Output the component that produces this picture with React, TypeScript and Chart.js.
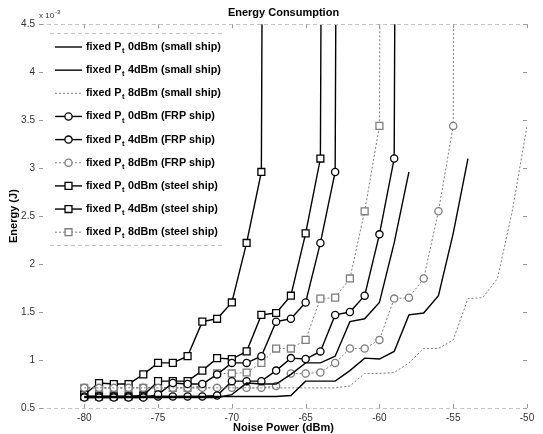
import React, { useEffect, useRef } from "react";
import { Chart, registerables } from "chart.js";

Chart.register(...registerables);

// Noise power (dBm) sample points
const noisePowerDbm = [
  -80, -79, -78, -77, -76, -75, -74, -73, -72, -71, -70, -69, -68, -67, -66, -65,
  -64, -63, -62, -61, -60, -59, -58, -57, -56, -55, -54, -53, -52, -51, -50,
];
const xTickValues = [-80, -75, -70, -65, -60, -55, -50];
const energyTickValues = [0.5, 1, 1.5, 2, 2.5, 3, 3.5, 4, 4.5];

const chartTitle = "Energy Consumption";
const xAxisTitle = "Noise Power (dBm)";
const yAxisTitle = "Energy (J)";

// Energy values, in units of 1e-3 J (null = no point)
const smallShip0dBm = [
  0.61, 0.61, 0.61, 0.61, 0.61, 0.61, 0.61, 0.61, 0.61, 0.61, 0.64, 0.76, 0.75, 0.75, 0.85, 0.97,
  0.97, 1.04, 1.40, 1.43, 1.60, 2.22, 2.96, null, null, null, null, null, null, null, null,
];
const smallShip4dBm = [
  0.62, 0.62, 0.62, 0.62, 0.62, 0.62, 0.62, 0.62, 0.62, 0.62, 0.62, 0.62, 0.62, 0.62, 0.63, 0.78,
  0.78, 0.78, 0.89, 1.02, 1.01, 1.09, 1.47, 1.49, 1.67, 2.32, 3.10, null, null, null, null,
];
const smallShip8dBm = [
  0.71, 0.71, 0.71, 0.71, 0.71, 0.71, 0.71, 0.71, 0.71, 0.71, 0.71, 0.71, 0.71, 0.71, 0.71, 0.71,
  0.71, 0.71, 0.73, 0.86, 0.86, 0.87, 0.97, 1.12, 1.12, 1.21, 1.64, 1.65, 1.85, 2.55, 3.44,
];
const frpShip0dBm = [
  0.61, 0.61, 0.61, 0.61, 0.61, 0.64, 0.76, 0.75, 0.75, 0.85, 0.97, 0.97, 1.04, 1.40, 1.43, 1.60,
  2.22, 2.96, 40, null, null, null, null, null, null, null, null, null, null, null, null,
];
const frpShip4dBm = [
  0.62, 0.62, 0.62, 0.62, 0.62, 0.62, 0.62, 0.62, 0.62, 0.63, 0.78, 0.78, 0.78, 0.89, 1.02, 1.01,
  1.09, 1.47, 1.50, 1.67, 2.31, 3.10, 40, null, null, null, null, null, null, null, null,
];
const frpShip8dBm = [
  0.71, 0.71, 0.71, 0.71, 0.71, 0.71, 0.71, 0.71, 0.71, 0.71, 0.71, 0.71, 0.71, 0.73, 0.86, 0.86,
  0.87, 0.97, 1.12, 1.12, 1.21, 1.64, 1.65, 1.85, 2.55, 3.44, 40, null, null, null, null,
];
const steelShip0dBm = [
  0.64, 0.76, 0.75, 0.75, 0.85, 0.97, 0.97, 1.04, 1.40, 1.43, 1.60, 2.22, 2.96, 40, null, null,
  null, null, null, null, null, null, null, null, null, null, null, null, null, null, null,
];
const steelShip4dBm = [
  0.62, 0.62, 0.62, 0.62, 0.63, 0.78, 0.78, 0.78, 0.89, 1.02, 1.01, 1.09, 1.47, 1.49, 1.67, 2.32,
  3.10, 40, null, null, null, null, null, null, null, null, null, null, null, null, null,
];
const steelShip8dBm = [
  0.71, 0.71, 0.71, 0.71, 0.71, 0.71, 0.71, 0.71, 0.73, 0.86, 0.86, 0.87, 0.97, 1.12, 1.12, 1.21,
  1.64, 1.65, 1.85, 2.55, 3.44, 40, null, null, null, null, null, null, null, null, null,
];

const powerLabels = ["0dBm", "4dBm", "8dBm"];
const shipLabels = ["small ship", "FRP ship", "steel ship"];

const seriesValues = [
  smallShip0dBm, smallShip4dBm, smallShip8dBm,
  frpShip0dBm, frpShip4dBm, frpShip8dBm,
  steelShip0dBm, steelShip4dBm, steelShip8dBm,
];

const FONT = "'Liberation Sans', Arial, Helvetica, sans-serif";
const SOLID = "#000000";
const DOTTED = "#7d7d7d";

function buildDatasets() {
  return seriesValues.map((vals, i) => {
    const ship = Math.floor(i / 3);
    const pw = i % 3;
    const dotted = pw === 2;
    const color = dotted ? DOTTED : SOLID;
    const style = ship === 0 ? false : ship === 1 ? "circle" : "rect";
    return {
      label: `fixed Pt ${powerLabels[pw]} (${shipLabels[ship]})`,
      data: noisePowerDbm.map((x, k) => ({ x, y: vals[k] })),
      borderColor: color,
      backgroundColor: "#ffffff",
      borderWidth: dotted ? 1 : 1.4,
      borderDash: dotted ? [2, 2] : [],
      pointStyle: style || "circle",
      pointRadius: style === false ? 0 : style === "circle" ? 3.6 : 4.9,
      pointBorderWidth: 1.3,
      pointBorderColor: color,
      pointBackgroundColor: "#ffffff",
      tension: 0,
      spanGaps: false,
      _legendPower: powerLabels[pw],
      _legendShip: shipLabels[ship],
    };
  });
}

const overlayPlugin = {
  id: "matlabOverlay",
  afterDraw(chart: any) {
    const { ctx, chartArea } = chart;
    const { left, right, top, bottom } = chartArea;
    const xs = chart.scales.x;
    const ys = chart.scales.y;
    ctx.save();
    // faint frame (top / bottom)
    ctx.strokeStyle = "#c4c4c4";
    ctx.lineWidth = 1;
    ctx.setLineDash([4, 3]);
    ctx.beginPath();
    ctx.moveTo(left, Math.round(top) + 0.5);
    ctx.lineTo(right, Math.round(top) + 0.5);
    ctx.moveTo(left, Math.round(bottom) + 0.5);
    ctx.lineTo(right, Math.round(bottom) + 0.5);
    ctx.stroke();
    ctx.setLineDash([]);
    // inward ticks
    ctx.strokeStyle = "#9a9a9a";
    ctx.beginPath();
    xTickValues.forEach((v) => {
      const px = Math.round(xs.getPixelForValue(v)) + 0.5;
      ctx.moveTo(px, bottom);
      ctx.lineTo(px, bottom - 4);
      ctx.moveTo(px, top);
      ctx.lineTo(px, top + 4);
    });
    energyTickValues.forEach((v) => {
      const py = Math.round(ys.getPixelForValue(v)) + 0.5;
      ctx.moveTo(left - 1, py);
      ctx.lineTo(left + 3, py);
      ctx.moveTo(right, py);
      ctx.lineTo(right - 4, py);
    });
    ctx.stroke();

    // exponent label
    ctx.fillStyle = "#333";
    ctx.textBaseline = "alphabetic";
    ctx.textAlign = "left";
    ctx.font = `8px ${FONT}`;
    ctx.fillText("x 10", left - 1, top - 6);
    const w10 = ctx.measureText("x 10").width;
    ctx.font = `6px ${FONT}`;
    ctx.fillText("-3", left - 1 + w10 + 1, top - 10);

    // legend
    const lx = 50, ly = 33, lw = 172, lh = 212;
    ctx.fillStyle = "#ffffff";
    ctx.fillRect(lx, ly, lw, lh);
    ctx.strokeStyle = "#c4c4c4";
    ctx.setLineDash([4, 3]);
    ctx.beginPath();
    ctx.moveTo(lx, ly + 0.5);
    ctx.lineTo(lx + lw, ly + 0.5);
    ctx.moveTo(lx, ly + lh + 0.5);
    ctx.lineTo(lx + lw, ly + lh + 0.5);
    ctx.stroke();
    ctx.setLineDash([]);

    chart.data.datasets.forEach((ds: any, i: number) => {
      const cy = 47 + i * 23.15;
      ctx.save();
      ctx.strokeStyle = ds.borderColor;
      ctx.lineWidth = ds.borderWidth;
      ctx.setLineDash(ds.borderDash || []);
      ctx.beginPath();
      ctx.moveTo(55, cy);
      ctx.lineTo(82, cy);
      ctx.stroke();
      ctx.setLineDash([]);
      if (ds.pointRadius > 0) {
        ctx.lineWidth = ds.pointBorderWidth;
        ctx.strokeStyle = ds.pointBorderColor;
        ctx.fillStyle = "#ffffff";
        ctx.beginPath();
        if (ds.pointStyle === "circle") {
          ctx.arc(68.5, cy, ds.pointRadius, 0, Math.PI * 2);
        } else {
          const h = ds.pointRadius * Math.SQRT1_2;
          ctx.rect(68.5 - h, cy - h, 2 * h, 2 * h);
        }
        ctx.fill();
        ctx.stroke();
      }
      ctx.fillStyle = "#000";
      ctx.textBaseline = "middle";
      ctx.font = `bold 10.8px ${FONT}`;
      let tx = 86;
      ctx.fillText("fixed P", tx, cy);
      tx += ctx.measureText("fixed P").width;
      ctx.font = `bold 7.5px ${FONT}`;
      ctx.fillText("t", tx + 0.5, cy + 4);
      tx += ctx.measureText("t").width + 1;
      ctx.font = `bold 10.8px ${FONT}`;
      ctx.fillText(` ${ds._legendPower} (${ds._legendShip})`, tx, cy);
      ctx.restore();
    });
    ctx.restore();
  },
};

export default function App() {
  const canvasRef = useRef<HTMLCanvasElement | null>(null);

  useEffect(() => {
    if (!canvasRef.current) return;
    Chart.defaults.font.family = FONT;
    const chart = new Chart(canvasRef.current, {
      type: "line",
      data: { datasets: buildDatasets() as any },
      options: {
        animation: false,
        responsive: false,
        devicePixelRatio: 1,
        events: [],
        layout: { padding: { left: 0, right: 16, top: 0, bottom: 0 } },
        plugins: {
          legend: { display: false },
          tooltip: { enabled: false },
          title: {
            display: true,
            text: chartTitle,
            fullSize: false,
            color: "#000",
            font: { size: 11, weight: "bold", family: FONT },
            padding: { top: 6, bottom: 5 },
          },
        },
        scales: {
          x: {
            type: "linear",
            min: -83,
            max: -50,
            afterBuildTicks: (s: any) => {
              s.ticks = xTickValues.map((v) => ({ value: v }));
            },
            afterFit: (s: any) => {
              s.height = 26;
            },
            grid: { display: false, drawTicks: false },
            border: { display: false },
            ticks: {
              padding: 4,
              color: "#333",
              font: { size: 10, family: FONT },
              autoSkip: false,
              maxRotation: 0,
              callback: (v: any) => String(v),
            },
            title: {
              display: true,
              text: xAxisTitle,
              color: "#000",
              font: { size: 11, weight: "bold", family: FONT },
              padding: { top: 0, bottom: -1 },
            },
          },
          y: {
            type: "linear",
            min: 0.5,
            max: 4.5,
            afterBuildTicks: (s: any) => {
              s.ticks = energyTickValues.map((v) => ({ value: v }));
            },
            afterFit: (s: any) => {
              s.width = 40;
            },
            grid: { display: false, drawTicks: false },
            border: { display: false },
            ticks: {
              padding: 5,
              color: "#333",
              font: { size: 10, family: FONT },
              callback: (v: any) => String(v),
            },
            title: {
              display: true,
              text: yAxisTitle,
              color: "#000",
              font: { size: 11, weight: "bold", family: FONT },
              padding: { top: 7, bottom: 0 },
            },
          },
        },
      } as any,
      plugins: [overlayPlugin],
    });
    return () => chart.destroy();
  }, []);

  return (
    <div style={{ position: "absolute", left: 0, top: 0, width: 543, height: 434, background: "#fff" }}>
      <canvas ref={canvasRef} width={543} height={434} style={{ display: "block" }} />
    </div>
  );
}
